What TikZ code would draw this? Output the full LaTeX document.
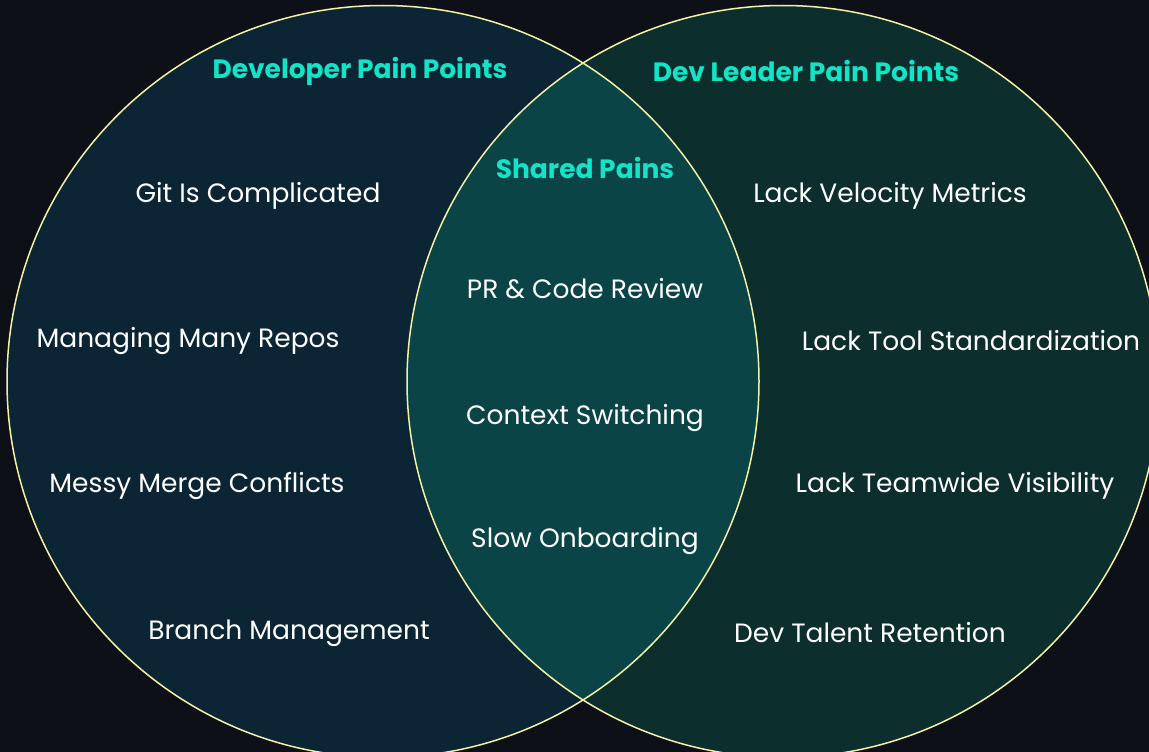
\documentclass[tikz,border=0pt]{standalone}
\usepackage{fontspec}
\setmainfont{Poppins}
\definecolor{bgdark}{HTML}{0D1017}
\definecolor{devfill}{HTML}{0B2535}
\definecolor{leadfill}{HTML}{0C2E2D}
\definecolor{sharedfill}{HTML}{0A4447}
\definecolor{ringline}{HTML}{F4F1A5}
\definecolor{titlecyan}{HTML}{13E3C6}
\tikzset{
  title/.style={text=titlecyan, font=\fontsize{26.5}{30}\selectfont\bfseries},
  pain/.style={text=white, font=\fontsize{26.5}{30}\selectfont},
}
\begin{document}
\begin{tikzpicture}[x=1pt,y=-1pt]
 \fill [bgdark] (0,0) rectangle (1149,752);
 \useasboundingbox (0,0) rectangle (1149,752);
 % the two circles
 \fill [devfill] (383,381.5) circle (376pt);
 \fill [leadfill] (783,381.5) circle (376pt);
 \begin{scope}
  \clip (383,381.5) circle (376pt);
  \fill [sharedfill] (783,381.5) circle (376pt);
 \end{scope}
 \draw [ringline, line width=1.5pt] (383,381.5) circle (376pt);
 \draw [ringline, line width=1.5pt] (783,381.5) circle (376pt);
 % titles
 \node [title] (devtitle) at (360,71) {Developer Pain Points};
 \node [title] (leadtitle) at (806,71) {Dev Leader Pain Points};
 \node [title] (sharedtitle) at (585,168) {Shared Pains};
 % developer side
 \node [pain] (git) at (258,196) {Git Is Complicated};
 \node [pain] (repos) at (188,341) {Managing Many Repos};
 \node [pain] (merge) at (197,486) {Messy Merge Conflicts};
 \node [pain] (branch) at (289,633) {Branch Management};
 % shared
 \node [pain] (review) at (585,289) {PR \& Code Review};
 \node [pain] (context) at (585,418) {Context Switching};
 \node [pain] (onboard) at (585,541) {Slow Onboarding};
 % dev leader side
 \node [pain] (velocity) at (890,196) {Lack Velocity Metrics};
 \node [pain] (tools) at (971,341) {Lack Tool Standardization};
 \node [pain] (visibility) at (955,486) {Lack Teamwide Visibility};
 \node [pain] (talent) at (870,633) {Dev Talent Retention};
\end{tikzpicture}
\end{document}
